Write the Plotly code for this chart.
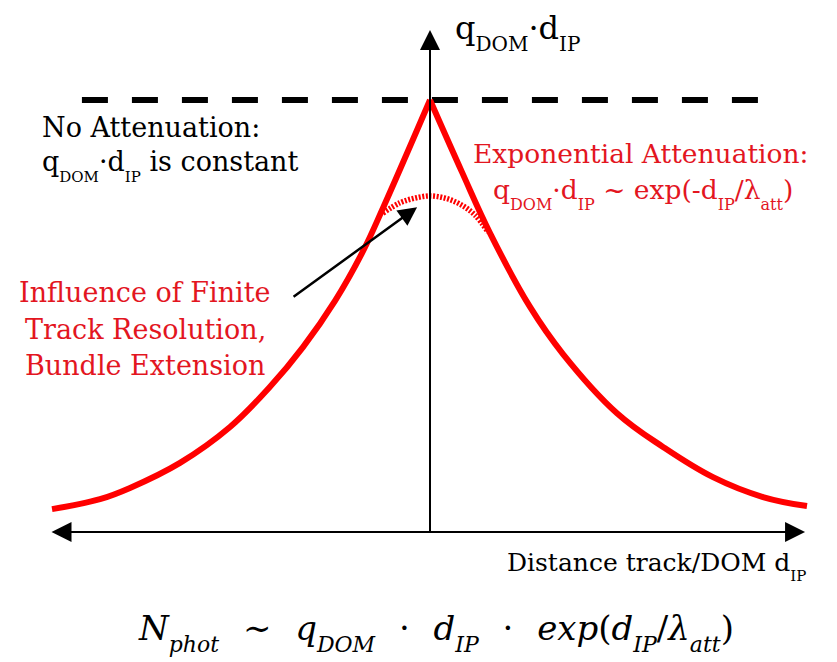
import plotly.graph_objects as go

W, H = 837, 662

# ---- data (distance d_IP in arbitrary units, q_DOM*d_IP normalised to peak = 1)
dist_left = [-9.947, -8.684, -7.895, -6.579, -5.263, -4.211, -3.342, -2.500, -1.763, -1.237, 0.0]
qd_left = [0.053, 0.076, 0.102, 0.160, 0.243, 0.336, 0.428, 0.535, 0.650, 0.750, 1.0]
dist_right = [0.0, 0.842, 1.579, 2.632, 3.500, 4.921, 6.132, 7.447, 8.763, 9.921]
qd_right = [1.0, 0.833, 0.692, 0.521, 0.412, 0.275, 0.197, 0.127, 0.081, 0.060]
dist_smeared = [-1.24, -0.79, -0.39, 0.0, 0.39, 0.79, 1.18, 1.53]
qd_smeared = [0.738, 0.762, 0.773, 0.778, 0.773, 0.759, 0.734, 0.694]
dist_const = [-9.16, 8.95]
qd_const = [1.0, 1.0]

RED = "#ff0000"
TXTRED = "#e3161f"
SERIF = "DejaVu Serif"

fig = go.Figure()
fig.add_trace(go.Scatter(x=dist_const, y=qd_const, mode="lines",
                         line=dict(color="black", width=6, dash="26px,24px"),
                         hoverinfo="skip"))
fig.add_trace(go.Scatter(x=dist_left, y=qd_left, mode="lines",
                         line=dict(color=RED, width=6, shape="spline", smoothing=1.1),
                         hoverinfo="skip"))
fig.add_trace(go.Scatter(x=dist_right, y=qd_right, mode="lines",
                         line=dict(color=RED, width=6, shape="spline", smoothing=1.1),
                         hoverinfo="skip"))
fig.add_trace(go.Scatter(x=dist_smeared, y=qd_smeared, mode="lines",
                         line=dict(color=RED, width=5.5, shape="spline", dash="2px,1.6px"),
                         hoverinfo="skip"))

def P(x, y):
    return dict(x=x / W, y=1 - y / H, xref="paper", yref="paper")

ann = []
# axes with arrowheads
ann.append(dict(x=0, y=1.162, ax=0, ay=-0.002, xref="x", yref="y", axref="x", ayref="y",
                text="", showarrow=True, arrowhead=2, arrowsize=2, arrowwidth=2,
                arrowcolor="black"))
ann.append(dict(x=9.87, y=0, ax=-10.0, ay=0, xref="x", yref="y", axref="x", ayref="y",
                text="", showarrow=True, arrowhead=2, startarrowhead=2, arrowside="end+start",
                arrowsize=2, startarrowsize=2, arrowwidth=2, arrowcolor="black"))
# pointer arrow
ann.append(dict(x=-0.34, y=0.752, ax=-3.63, ay=0.542, xref="x", yref="y", axref="x", ayref="y",
                text="", showarrow=True, arrowhead=2, arrowsize=1.5, arrowwidth=2.5,
                arrowcolor="black"))

def S(s, size=16, shift=5):
    return f'<sub><span style="font-size:{size}px;baseline-shift:-{shift}px">{s}</span></sub>'

def T(text, x, y, color="black", size=27, xanchor="left", family=SERIF):
    d = P(x, y)
    d.update(text=text, showarrow=False, xanchor=xanchor, yanchor="middle",
             font=dict(family=family, size=size, color=color))
    ann.append(d)

T("q" + S("DOM", 20, 5) + "·d" + S("IP", 20, 5), 453, 32, size=32)
T("No Attenuation:", 40, 127)
T("q" + S("DOM", 15) + "·d" + S("IP", 15) + " is constant", 40, 166)
T("Exponential Attenuation:", 471, 153, color=TXTRED, size=26.5)
T("q" + S("DOM") + "·d" + S("IP") + " ~ exp(-d" + S("IP") + "/λ" + S("att") + ")",
  491, 194, color=TXTRED, size=26.5)
T("Influence of Finite", 145, 292, color=TXTRED, xanchor="center")
T("Track Resolution,", 145, 329, color=TXTRED, xanchor="center")
T("Bundle Extension", 145, 366, color=TXTRED, xanchor="center")
T("Distance track/DOM d" + S("IP", 15, 5), 505, 566, size=25)

sp = "\u2002\u2009"
T("<i>N</i>" + S("<i>phot</i>", 22, 5) + sp + "∼" + sp + "<i>q</i>" + S("<i>DOM</i>", 22, 5)
  + sp + "·" + sp + "<i>d</i>" + S("<i>IP</i>", 22, 5) + sp + "·" + sp
  + "<i>exp</i>(<i>d</i>" + S("<i>IP</i>", 22, 5) + "/<i>λ</i>" + S("<i>att</i>", 22, 5) + ")",
  436, 632, size=34, xanchor="center", family="DejaVu Serif")

fig.update_layout(
    width=W, height=H, margin=dict(l=0, r=0, t=0, b=0),
    paper_bgcolor="white", plot_bgcolor="white", showlegend=False,
    xaxis=dict(range=[-430 / 38, 407 / 38], visible=False, fixedrange=True),
    yaxis=dict(range=[(532 - 662) / 432, 532 / 432], visible=False, fixedrange=True),
    annotations=ann,
)

fig.write_html("out.html")
